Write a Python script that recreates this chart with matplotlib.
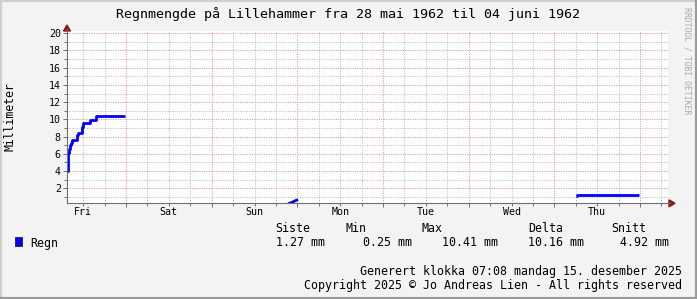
import numpy as np
import matplotlib
matplotlib.use("Agg")
import matplotlib.pyplot as plt
from matplotlib.patches import Rectangle, Polygon
from matplotlib.lines import Line2D

# x in days, 0 = Friday 00:00
fri_days = [0.311, 0.318, 0.326, 0.336, 0.346, 0.356, 0.366, 0.385, 0.410, 0.425, 0.432, 0.440,
            0.478, 0.486, 0.500, 0.572, 0.580, 0.646, 0.985]
fri_mm = [4.0, 4.9, 6.1, 6.6, 7.0, 7.3, 7.55, 7.6, 7.6, 7.75, 8.2, 8.45,
          8.45, 9.1, 9.6, 9.6, 9.9, 10.41, 10.41]
sun_days = [2.906, 2.935, 2.965, 2.993]
sun_mm = [0.25, 0.35, 0.50, 0.62]
thu_days = [6.249, 6.262, 6.990]
thu_mm = [1.13, 1.27, 1.27]

day_names = ["Fri", "Sat", "Sun", "Mon", "Tue", "Wed", "Thu"]
stat_names = ["Siste", "Min", "Max", "Delta", "Snitt"]
stat_values = [1.27, 0.25, 10.41, 10.16, 4.92]

W, H = 697, 299
BG = "#F3F3F3"
MONO = "DejaVu Sans Mono"

fig = plt.figure(figsize=(W / 100, H / 100), dpi=100, facecolor=BG)


def fx(x):
    return x / W


def fy(y):
    return 1 - y / H


# plot area in pixels
x0, x1 = 67, 668
y0, y1 = 31, 203.3
ax = fig.add_axes([fx(x0), fy(y1), (x1 - x0) / W, (y1 - y0) / H])
ax.set_facecolor("white")
ax.set_xlim(0.311, 0.311 + (x1 - x0) / 85.67)
ax.set_ylim(0.25, 0.25 + (y1 - y0) / 8.61)

ax.plot(fri_days, fri_mm, color="#0000FF", lw=2.0, drawstyle="steps-post", solid_capstyle="butt")
ax.plot(sun_days, sun_mm, color="#0000FF", lw=2.0)
ax.plot(thu_days, thu_mm, color="#0000FF", lw=2.0, drawstyle="steps-post", solid_capstyle="butt")

# grid
ax.set_yticks(np.arange(2, 21, 2))
ax.set_yticks(np.arange(1, 21, 1), minor=True)
ax.set_xticks(np.arange(1, 8))
ax.set_xticks(np.arange(0.5, 7.3, 0.25), minor=True)
ax.grid(True, which="minor", color="#BEBEBE", lw=0.75, ls=(0, (1, 1.3)))
ax.grid(True, which="major", color="#E49494", lw=0.75, ls=(0, (1, 1.3)))
ax.set_axisbelow(True)
ax.set_xticklabels([])
ax.tick_params(axis="both", which="both", colors="#707070", width=0.7)
ax.tick_params(axis="x", which="major", length=3, direction="out")
ax.tick_params(axis="x", which="minor", length=2, direction="out")
ax.tick_params(axis="y", which="major", length=3, direction="out", pad=1.5,
               labelsize=7.2, labelcolor="black")
ax.tick_params(axis="y", which="minor", length=2, direction="out")
for lab in ax.get_yticklabels():
    lab.set_family(MONO)

for s in ["top", "right"]:
    ax.spines[s].set_visible(False)
for s in ["left", "bottom"]:
    ax.spines[s].set_color("#707070")
    ax.spines[s].set_linewidth(0.8)

for i, name in enumerate(day_names):
    ax.text(i + 0.5, -0.05, name, transform=ax.get_xaxis_transform(), ha="center", va="center",
            fontsize=7.2, family=MONO)

# axis arrows
ac = "#8B1A1A"
fig.add_artist(Line2D([fx(x1), fx(670)], [fy(y1), fy(y1)], color="#707070", lw=0.8))
fig.add_artist(Polygon([(fx(669), fy(y1 - 3.5)), (fx(669), fy(y1 + 3.5)), (fx(675), fy(y1))],
                       closed=True, color=ac, transform=fig.transFigure))
fig.add_artist(Line2D([fx(x0), fx(x0)], [fy(y0), fy(29)], color="#707070", lw=0.8))
fig.add_artist(Polygon([(fx(x0 - 3.5), fy(31)), (fx(x0 + 3.5), fy(31)), (fx(x0), fy(25))],
                       closed=True, color=ac, transform=fig.transFigure))

# title and labels
fig.text(fx(348), fy(14), "Regnmengde på Lillehammer fra 28 mai 1962 til 04 juni 1962",
         ha="center", va="center", fontsize=9.6, family=MONO)
fig.text(fx(10), fy(117), "Millimeter", rotation=90, ha="center", va="center",
         fontsize=8.3, family=MONO)
fig.text(fx(687), fy(61), "RRDTOOL / TOBI OETIKER", rotation=270, ha="center", va="center",
         fontsize=5.9, family=MONO, color="#A8A8A8")

# legend
fig.add_artist(Rectangle((fx(15), fy(246)), 7 / W, 9 / H, transform=fig.transFigure,
                         facecolor="#0000FF", edgecolor="#222222", lw=0.6))
fig.text(fx(30), fy(243), "Regn", ha="left", va="center", fontsize=8.4, family=MONO)
head_x = [275, 345, 422, 528, 611]
val_right = [325, 412, 498, 584, 669]
for name, hx in zip(stat_names, head_x):
    fig.text(fx(hx), fy(229), name, ha="left", va="center", fontsize=8.4, family=MONO)
for v, vx in zip(stat_values, val_right):
    fig.text(fx(vx), fy(243), f"{v:.2f} mm", ha="right", va="center", fontsize=8.4, family=MONO)

fig.text(fx(682), fy(271), "Generert klokka 07:08 mandag 15. desember 2025", ha="right",
         va="center", fontsize=8.4, family=MONO)
fig.text(fx(682), fy(285), "Copyright 2025 © Jo Andreas Lien - All rights reserved", ha="right",
         va="center", fontsize=8.4, family=MONO)

# frame
fig.add_artist(Line2D([0, 0, 1], [0, 1, 1], transform=fig.transFigure, color="#CFCFCF", lw=3))
fig.add_artist(Line2D([0, 1, 1], [0, 0, 1], transform=fig.transFigure, color="#9A9A9A", lw=3))

fig.savefig("out.png", dpi=100, facecolor=BG)
